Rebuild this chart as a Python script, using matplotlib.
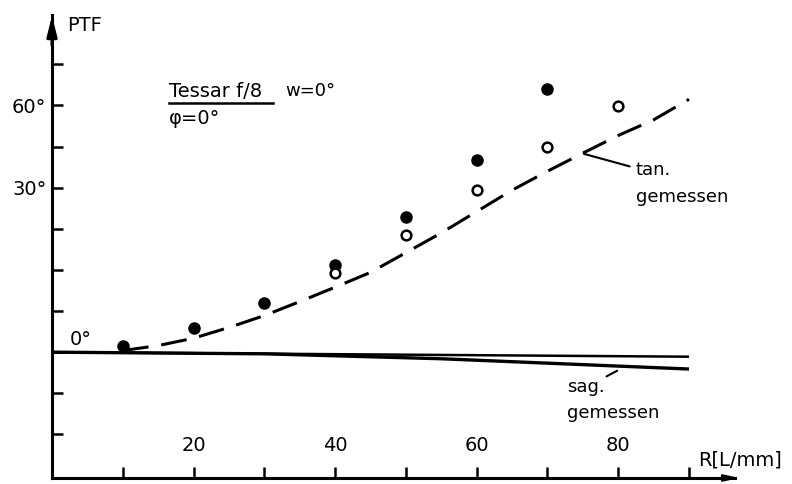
import matplotlib.pyplot as plt

# Spatial frequency R [L/mm] and PTF values (degrees)
r_filled = [10, 20, 30, 40, 50, 60, 70]
ptf_filled = [1.5, 5.9, 11.9, 21.1, 32.9, 46.8, 64.0]

r_open = [40, 50, 60, 70, 80]
ptf_open = [19.2, 28.6, 39.5, 49.8, 59.9]

# dashed curve (tan.)
r_tan = [10, 15, 20, 25, 30, 35, 40, 45, 50, 55, 60, 65, 70, 75, 80, 85, 90]
ptf_tan = [0.4, 1.6, 3.4, 6.0, 8.9, 12.3, 15.8, 19.4, 24.2, 29.0, 34.2,
           39.4, 44.0, 48.4, 52.7, 56.5, 61.5]

# solid lines near zero (sag.)
r_sag1 = [0, 90]
ptf_sag1 = [0, -1.1]
r_sag2 = [0, 30, 55, 90]
ptf_sag2 = [0, -0.4, -1.6, -4.1]

x_ticks = [10, 20, 30, 40, 50, 60, 70, 80, 90]
x_labels = ['', '20', '', '40', '', '60', '', '80', '']
y_ticks = [-20, -10, 0, 10, 20, 30, 40, 50, 60, 70]
y_labels = ['', '', '', '', '', '', '30°', '', '60°', '']

plt.rcParams['font.family'] = 'DejaVu Sans'

fig = plt.figure(figsize=(7.92, 4.84), dpi=100)
ax = fig.add_axes([52 / 792, 6 / 484, 683 / 792, 463 / 484])
ax.set_xlim(0, 96.5)
ax.set_ylim(-30.6, 82)

lw = 2.2
ax.plot(r_sag1, ptf_sag1, color='black', lw=1.8, solid_capstyle='butt')
ax.plot(r_sag2, ptf_sag2, color='black', lw=2.4, solid_capstyle='butt')
ax.plot(r_tan, ptf_tan, color='black', lw=lw, linestyle=(0, (8.5, 4.2)))
ax.plot(r_filled, ptf_filled, 'o', color='black', ms=8)
ax.plot(r_open, ptf_open, 'o', mfc='white', mec='black', mew=1.8, ms=7)

# axes
for s in ['top', 'right']:
    ax.spines[s].set_visible(False)
for s in ['left', 'bottom']:
    ax.spines[s].set_linewidth(lw)
ax.set_xticks(x_ticks)
ax.set_xticklabels(x_labels)
ax.set_yticks(y_ticks)
ax.set_yticklabels(y_labels)
ax.tick_params(axis='x', direction='in', length=8, width=1.8, pad=-30, labelsize=14)
ax.tick_params(axis='y', direction='in', length=8, width=1.8, pad=4, labelsize=14)

ax.annotate('', xy=(0, 82.5), xytext=(0, 74), annotation_clip=False,
            arrowprops=dict(arrowstyle='-|>,head_length=1.2,head_width=0.3',
                            color='black', lw=lw))
ax.annotate('', xy=(97.5, -30.6), xytext=(93, -30.6), annotation_clip=False,
            arrowprops=dict(arrowstyle='-|>,head_length=0.9,head_width=0.2',
                            color='black', lw=1.5))

# labels
ax.text(2.2, 79.4, 'PTF', fontsize=14, va='center', ha='left')
ax.text(91.3, -26.2, 'R[L/mm]', fontsize=14, va='center', ha='left')
ax.text(2.5, 3, '0°', fontsize=14, va='center', ha='left')

ax.text(16.5, 63.5, 'Tessar f/8', fontsize=14, va='center', ha='left')
ax.plot([16.6, 31.2], [60.5, 60.5], color='black', lw=1.8)
ax.text(33, 63.5, 'w=0°', fontsize=13, va='center', ha='left')
ax.text(16.5, 56.8, 'φ=0°', fontsize=14, va='center', ha='left')

ax.text(82.5, 44.2, 'tan.', fontsize=13, va='center', ha='left')
ax.text(82.5, 37.8, 'gemessen', fontsize=13, va='center', ha='left')
ax.annotate('', xy=(74.8, 48.4), xytext=(82, 45),
            arrowprops=dict(arrowstyle='-', color='black', lw=1.5))

ax.text(72.8, -8.5, 'sag.', fontsize=13, va='center', ha='left')
ax.text(72.8, -14.8, 'gemessen', fontsize=13, va='center', ha='left')
ax.annotate('', xy=(80.2, -4.2), xytext=(78, -6.2),
            arrowprops=dict(arrowstyle='-', color='black', lw=1.5))

fig.savefig('out.png', dpi=100)
